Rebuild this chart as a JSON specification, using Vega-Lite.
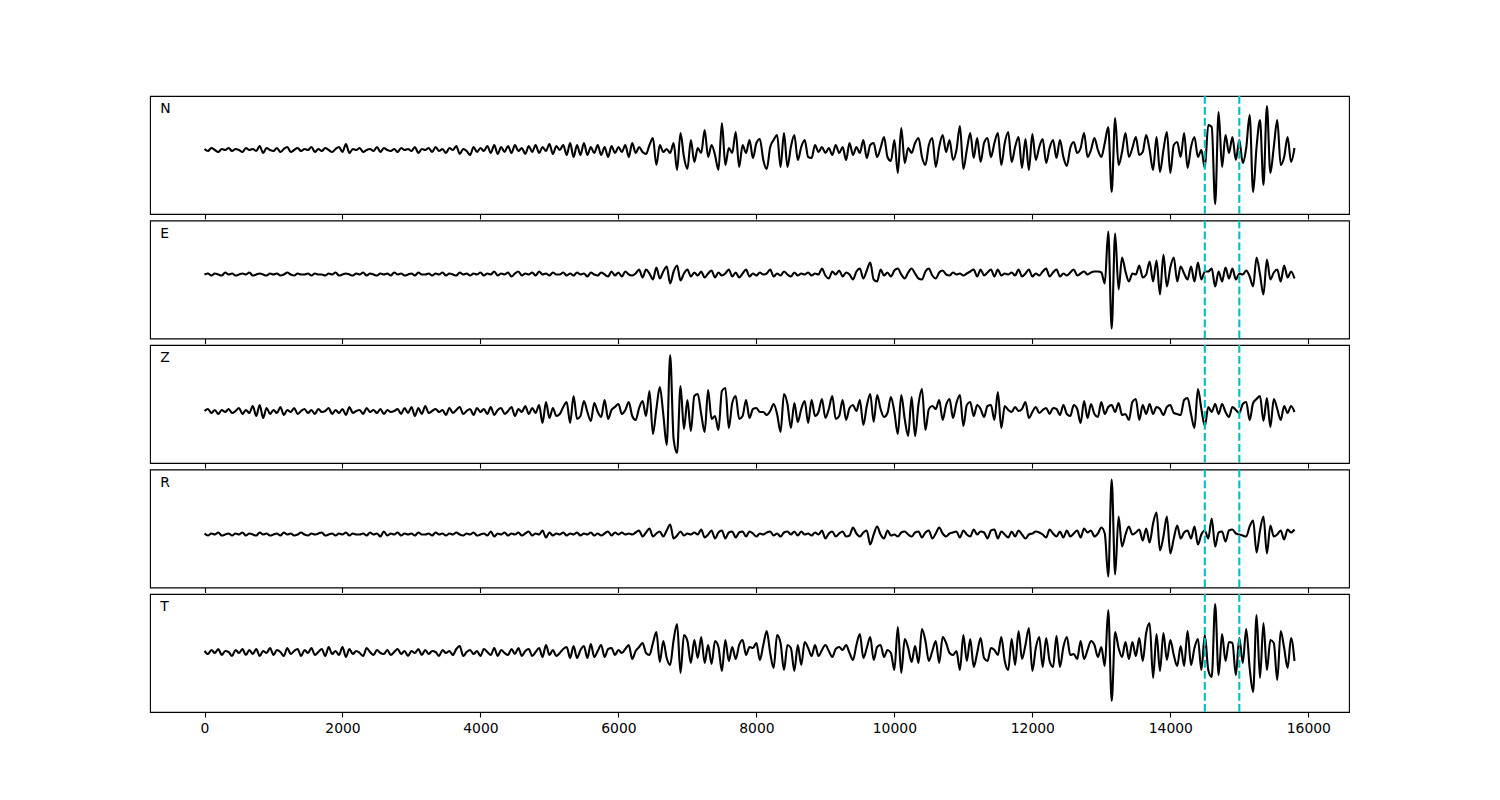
{"$schema":"https://vega.github.io/schema/vega-lite/v6.json","background":"white","padding":{"left":149,"top":94,"right":0,"bottom":0},"autosize":{"type":"pad"},"bounds":"flush","spacing":6.5,"config":{"view":{"stroke":"black","strokeWidth":1.1},"axis":{"grid":false},"font":"DejaVu Sans"},
"datasets":{"picks":[{"p":14500},{"p":15000}],"seis":[
{"t":0,"N":6,"E":5,"Z":-7,"R":-5,"T":2},{"t":50,"N":4,"E":6,"Z":-5,"R":-7,"T":-1},{"t":100,"N":7,"E":4,"Z":-9,"R":-5,"T":3},{"t":150,"N":5,"E":6,"Z":-6,"R":-6,"T":0},{"t":200,"N":3,"E":5,"Z":-10,"R":-4,"T":4},{"t":250,"N":6,"E":4,"Z":-6,"R":-7,"T":-2},{"t":300,"N":5,"E":7,"Z":-8,"R":-6,"T":2},{"t":350,"N":7,"E":5,"Z":-5,"R":-5,"T":1},{"t":400,"N":4,"E":6,"Z":-9,"R":-7,"T":-3},{"t":450,"N":6,"E":4,"Z":-7,"R":-5,"T":3},
{"t":500,"N":5,"E":5,"Z":-4,"R":-6,"T":0},{"t":550,"N":3,"E":6,"Z":-10,"R":-4,"T":4},{"t":600,"N":7,"E":5,"Z":-6,"R":-7,"T":-2},{"t":650,"N":5,"E":7,"Z":-9,"R":-5,"T":3},{"t":700,"N":6,"E":4,"Z":-2,"R":-6,"T":-1},{"t":750,"N":4,"E":5,"Z":-12,"R":-7,"T":4},{"t":800,"N":9,"E":6,"Z":-1,"R":-4,"T":-3},{"t":850,"N":2,"E":5,"Z":-14,"R":-6,"T":2},{"t":900,"N":7,"E":4,"Z":-4,"R":-5,"T":0},{"t":950,"N":5,"E":6,"Z":-10,"R":-7,"T":5},
{"t":1000,"N":4,"E":5,"Z":-6,"R":-6,"T":-2},{"t":1050,"N":7,"E":6,"Z":-9,"R":-5,"T":3},{"t":1100,"N":3,"E":4,"Z":-3,"R":-7,"T":1},{"t":1150,"N":6,"E":5,"Z":-11,"R":-4,"T":-3},{"t":1200,"N":8,"E":7,"Z":-6,"R":-6,"T":5},{"t":1250,"N":3,"E":5,"Z":-8,"R":-5,"T":-1},{"t":1300,"N":5,"E":4,"Z":-4,"R":-7,"T":2},{"t":1350,"N":7,"E":6,"Z":-10,"R":-6,"T":4},{"t":1400,"N":4,"E":5,"Z":-7,"R":-4,"T":-3},{"t":1450,"N":6,"E":5,"Z":-5,"R":-6,"T":3},
{"t":1500,"N":5,"E":6,"Z":-9,"R":-7,"T":0},{"t":1550,"N":8,"E":4,"Z":-6,"R":-5,"T":5},{"t":1600,"N":3,"E":6,"Z":-10,"R":-6,"T":-2},{"t":1650,"N":6,"E":5,"Z":-5,"R":-5,"T":1},{"t":1700,"N":4,"E":5,"Z":-8,"R":-4,"T":4},{"t":1750,"N":7,"E":4,"Z":-7,"R":-7,"T":-3},{"t":1800,"N":5,"E":6,"Z":-4,"R":-6,"T":6},{"t":1850,"N":3,"E":5,"Z":-10,"R":-5,"T":-1},{"t":1900,"N":6,"E":7,"Z":-6,"R":-7,"T":2},{"t":1950,"N":8,"E":4,"Z":-9,"R":-5,"T":-2},
{"t":2000,"N":3,"E":5,"Z":-5,"R":-6,"T":6},{"t":2050,"N":11,"E":6,"Z":-11,"R":-4,"T":-4},{"t":2100,"N":2,"E":5,"Z":-3,"R":-7,"T":4},{"t":2150,"N":6,"E":4,"Z":-9,"R":-5,"T":-1},{"t":2200,"N":5,"E":6,"Z":-7,"R":-6,"T":2},{"t":2250,"N":7,"E":5,"Z":-6,"R":-6,"T":0},{"t":2300,"N":3,"E":7,"Z":-10,"R":-5,"T":-3},{"t":2350,"N":5,"E":4,"Z":-4,"R":-7,"T":5},{"t":2400,"N":6,"E":6,"Z":-8,"R":-4,"T":1},{"t":2450,"N":4,"E":5,"Z":-6,"R":-6,"T":-2},
{"t":2500,"N":8,"E":4,"Z":-9,"R":-5,"T":3},{"t":2550,"N":3,"E":6,"Z":-5,"R":-8,"T":0},{"t":2600,"N":7,"E":5,"Z":-10,"R":-3,"T":-1},{"t":2650,"N":5,"E":6,"Z":-6,"R":-7,"T":3},{"t":2700,"N":4,"E":4,"Z":-8,"R":-5,"T":-2},{"t":2750,"N":6,"E":7,"Z":-7,"R":-6,"T":1},{"t":2800,"N":3,"E":5,"Z":-5,"R":-4,"T":4},{"t":2850,"N":7,"E":6,"Z":-10,"R":-7,"T":-1},{"t":2900,"N":5,"E":4,"Z":-4,"R":-5,"T":2},{"t":2950,"N":6,"E":5,"Z":-9,"R":-6,"T":-3},
{"t":3000,"N":4,"E":6,"Z":-3,"R":-5,"T":2},{"t":3050,"N":8,"E":4,"Z":-12,"R":-7,"T":0},{"t":3100,"N":2,"E":7,"Z":-4,"R":-4,"T":4},{"t":3150,"N":6,"E":5,"Z":-10,"R":-6,"T":-2},{"t":3200,"N":5,"E":5,"Z":-2,"R":-6,"T":3},{"t":3250,"N":7,"E":6,"Z":-9,"R":-5,"T":-1},{"t":3300,"N":3,"E":4,"Z":-7,"R":-7,"T":2},{"t":3350,"N":8,"E":6,"Z":-5,"R":-4,"T":1},{"t":3400,"N":4,"E":5,"Z":-8,"R":-6,"T":-3},{"t":3450,"N":6,"E":7,"Z":-6,"R":-5,"T":3},
{"t":3500,"N":2,"E":4,"Z":-11,"R":-7,"T":0},{"t":3550,"N":7,"E":6,"Z":-4,"R":-5,"T":2},{"t":3600,"N":5,"E":5,"Z":-9,"R":-6,"T":-2},{"t":3650,"N":9,"E":4,"Z":-6,"R":-4,"T":4},{"t":3700,"N":1,"E":7,"Z":-3,"R":-6,"T":7},{"t":3750,"N":6,"E":5,"Z":-10,"R":-7,"T":-3},{"t":3800,"N":4,"E":6,"Z":-7,"R":-5,"T":1},{"t":3850,"N":0,"E":4,"Z":-5,"R":-6,"T":3},{"t":3900,"N":8,"E":6,"Z":-11,"R":-4,"T":-1},{"t":3950,"N":3,"E":5,"Z":-4,"R":-7,"T":2},
{"t":4000,"N":7,"E":7,"Z":-8,"R":-6,"T":-3},{"t":4050,"N":4,"E":4,"Z":-5,"R":-5,"T":4},{"t":4100,"N":9,"E":6,"Z":-10,"R":-7,"T":1},{"t":4150,"N":2,"E":5,"Z":-3,"R":-3,"T":-2},{"t":4200,"N":10,"E":8,"Z":-11,"R":-8,"T":5},{"t":4250,"N":1,"E":4,"Z":-6,"R":-5,"T":-3},{"t":4300,"N":8,"E":6,"Z":-4,"R":-6,"T":3},{"t":4350,"N":3,"E":5,"Z":-10,"R":-4,"T":0},{"t":4400,"N":9,"E":7,"Z":-7,"R":-7,"T":-2},{"t":4450,"N":2,"E":3,"Z":-3,"R":-5,"T":4},
{"t":4500,"N":10,"E":6,"Z":-12,"R":-6,"T":-1},{"t":4550,"N":4,"E":8,"Z":-5,"R":-4,"T":5},{"t":4600,"N":7,"E":4,"Z":-8,"R":-7,"T":-3},{"t":4650,"N":1,"E":6,"Z":-2,"R":-5,"T":2},{"t":4700,"N":9,"E":5,"Z":-10,"R":-3,"T":4},{"t":4750,"N":3,"E":7,"Z":-4,"R":-7,"T":-3},{"t":4800,"N":10,"E":4,"Z":-9,"R":-5,"T":1},{"t":4850,"N":2,"E":8,"Z":-1,"R":-6,"T":5},{"t":4900,"N":8,"E":5,"Z":-19,"R":-2,"T":-4},{"t":4950,"N":4,"E":6,"Z":2,"R":-9,"T":8},
{"t":5000,"N":11,"E":4,"Z":-14,"R":-4,"T":-2},{"t":5050,"N":1,"E":7,"Z":-4,"R":-7,"T":3},{"t":5100,"N":9,"E":5,"Z":-12,"R":-5,"T":-3},{"t":5150,"N":5,"E":5,"Z":-10,"R":-6,"T":0},{"t":5200,"N":10,"E":7,"Z":-3,"R":-4,"T":4},{"t":5250,"N":0,"E":4,"Z":2,"R":-7,"T":6},{"t":5300,"N":12,"E":6,"Z":-19,"R":-5,"T":-5},{"t":5350,"N":-2,"E":4,"Z":8,"R":-6,"T":7},{"t":5400,"N":10,"E":7,"Z":-15,"R":-4,"T":-5},{"t":5450,"N":0,"E":5,"Z":-12,"R":-7,"T":3},
{"t":5500,"N":12,"E":6,"Z":3,"R":-5,"T":7},{"t":5550,"N":0,"E":3,"Z":-8,"R":-6,"T":-5},{"t":5600,"N":8,"E":7,"Z":-17,"R":-4,"T":9},{"t":5650,"N":2,"E":5,"Z":1,"R":-7,"T":-4},{"t":5700,"N":10,"E":4,"Z":-8,"R":-5,"T":2},{"t":5750,"N":0,"E":7,"Z":-13,"R":-7,"T":8},{"t":5800,"N":8,"E":5,"Z":4,"R":-5,"T":-4},{"t":5850,"N":-2,"E":3,"Z":-15,"R":-3,"T":4},{"t":5900,"N":9,"E":8,"Z":-6,"R":-7,"T":5},{"t":5950,"N":2,"E":4,"Z":-3,"R":-4,"T":-2},
{"t":6000,"N":8,"E":7,"Z":0,"R":-6,"T":3},{"t":6050,"N":3,"E":3,"Z":-10,"R":-4,"T":0},{"t":6100,"N":10,"E":8,"Z":-6,"R":-6,"T":4},{"t":6150,"N":-2,"E":5,"Z":2,"R":-5,"T":8},{"t":6200,"N":12,"E":4,"Z":-12,"R":-6,"T":-6},{"t":6250,"N":2,"E":6,"Z":-16,"R":-4,"T":2},{"t":6300,"N":8,"E":10,"Z":-4,"R":-2,"T":6},{"t":6350,"N":3,"E":2,"Z":3,"R":-8,"T":10},{"t":6400,"N":1,"E":10,"Z":-12,"R":-4,"T":0},{"t":6450,"N":10,"E":6,"Z":13,"R":0,"T":-2},
{"t":6500,"N":17,"E":0,"Z":-30,"R":-8,"T":10},{"t":6550,"N":-10,"E":12,"Z":-5,"R":-5,"T":21},{"t":6600,"N":10,"E":1,"Z":17,"R":-3,"T":-9},{"t":6650,"N":3,"E":8,"Z":-10,"R":-8,"T":12},{"t":6700,"N":6,"E":13,"Z":-41,"R":-2,"T":-5},{"t":6750,"N":2,"E":-4,"Z":49,"R":4,"T":-12},{"t":6800,"N":12,"E":8,"Z":-35,"R":-10,"T":13},{"t":6850,"N":-15,"E":14,"Z":-49,"R":-7,"T":29},{"t":6900,"N":22,"E":-1,"Z":18,"R":-3,"T":-20},{"t":6950,"N":-2,"E":6,"Z":-25,"R":-7,"T":18},
{"t":7000,"N":-14,"E":10,"Z":4,"R":-5,"T":12},{"t":7050,"N":15,"E":3,"Z":-27,"R":-6,"T":-10},{"t":7100,"N":-7,"E":7,"Z":8,"R":-4,"T":13},{"t":7150,"N":7,"E":4,"Z":10,"R":-6,"T":-5},{"t":7200,"N":2,"E":8,"Z":-10,"R":-1,"T":16},{"t":7250,"N":25,"E":2,"Z":-28,"R":-9,"T":-10},{"t":7300,"N":-2,"E":6,"Z":14,"R":-6,"T":8},{"t":7350,"N":10,"E":9,"Z":-15,"R":-2,"T":-11},{"t":7400,"N":0,"E":2,"Z":-12,"R":-10,"T":12},{"t":7450,"N":-15,"E":7,"Z":-26,"R":-4,"T":6},
{"t":7500,"N":32,"E":4,"Z":13,"R":-2,"T":-18},{"t":7550,"N":-10,"E":6,"Z":16,"R":-10,"T":13},{"t":7600,"N":7,"E":10,"Z":-24,"R":-4,"T":-8},{"t":7650,"N":2,"E":3,"Z":1,"R":-3,"T":6},{"t":7700,"N":23,"E":7,"Z":8,"R":-9,"T":-6},{"t":7750,"N":-12,"E":2,"Z":-15,"R":-4,"T":8},{"t":7800,"N":10,"E":6,"Z":-12,"R":-3,"T":13},{"t":7850,"N":2,"E":10,"Z":4,"R":-8,"T":-2},{"t":7900,"N":15,"E":3,"Z":-14,"R":-3,"T":6},{"t":7950,"N":-3,"E":6,"Z":-5,"R":-5,"T":5},
{"t":8000,"N":12,"E":4,"Z":-4,"R":-8,"T":10},{"t":8050,"N":16,"E":7,"Z":-8,"R":-5,"T":-7},{"t":8100,"N":-5,"E":5,"Z":-8,"R":-6,"T":8},{"t":8150,"N":-14,"E":6,"Z":-11,"R":-4,"T":22},{"t":8200,"N":8,"E":10,"Z":-7,"R":-3,"T":0},{"t":8250,"N":15,"E":3,"Z":0,"R":-7,"T":-15},{"t":8300,"N":20,"E":6,"Z":-10,"R":-5,"T":18},{"t":8350,"N":-12,"E":4,"Z":-28,"R":-8,"T":10},{"t":8400,"N":22,"E":8,"Z":10,"R":-4,"T":-17},{"t":8450,"N":-12,"E":5,"Z":0,"R":-3,"T":8},
{"t":8500,"N":8,"E":3,"Z":-24,"R":-6,"T":5},{"t":8550,"N":20,"E":7,"Z":1,"R":-3,"T":-18},{"t":8600,"N":-5,"E":4,"Z":-18,"R":-7,"T":8},{"t":8650,"N":8,"E":6,"Z":-5,"R":-3,"T":-12},{"t":8700,"N":15,"E":5,"Z":3,"R":-6,"T":11},{"t":8750,"N":-2,"E":7,"Z":-19,"R":-5,"T":5},{"t":8800,"N":-3,"E":4,"Z":4,"R":-7,"T":-3},{"t":8850,"N":10,"E":6,"Z":-12,"R":-4,"T":8},{"t":8900,"N":3,"E":5,"Z":-8,"R":-6,"T":-3},{"t":8950,"N":8,"E":11,"Z":5,"R":-2,"T":3},
{"t":9000,"N":2,"E":4,"Z":-14,"R":-10,"T":8},{"t":9050,"N":7,"E":1,"Z":-5,"R":-5,"T":2},{"t":9100,"N":0,"E":8,"Z":8,"R":-3,"T":-4},{"t":9150,"N":10,"E":5,"Z":-15,"R":-8,"T":4},{"t":9200,"N":2,"E":9,"Z":-12,"R":-5,"T":6},{"t":9250,"N":8,"E":3,"Z":4,"R":-3,"T":3},{"t":9300,"N":-5,"E":7,"Z":-16,"R":-8,"T":8},{"t":9350,"N":12,"E":5,"Z":-4,"R":-7,"T":0},{"t":9400,"N":0,"E":0,"Z":-1,"R":1,"T":-7},{"t":9450,"N":8,"E":8,"Z":-7,"R":-5,"T":8},
{"t":9500,"N":2,"E":11,"Z":4,"R":-8,"T":19},{"t":9550,"N":15,"E":1,"Z":-21,"R":-4,"T":-5},{"t":9600,"N":-3,"E":9,"Z":-2,"R":-2,"T":5},{"t":9650,"N":10,"E":17,"Z":10,"R":-16,"T":16},{"t":9700,"N":12,"E":0,"Z":-18,"R":-6,"T":-7},{"t":9750,"N":-2,"E":-2,"Z":9,"R":2,"T":6},{"t":9800,"N":7,"E":10,"Z":-5,"R":-6,"T":8},{"t":9850,"N":18,"E":4,"Z":-13,"R":-10,"T":-4},{"t":9900,"N":-2,"E":7,"Z":-9,"R":-2,"T":3},{"t":9950,"N":-6,"E":3,"Z":7,"R":-7,"T":0},
{"t":10000,"N":15,"E":9,"Z":-8,"R":-6,"T":-17},{"t":10050,"N":-18,"E":11,"Z":-30,"R":-8,"T":26},{"t":10100,"N":27,"E":5,"Z":9,"R":-4,"T":-20},{"t":10150,"N":-8,"E":1,"Z":-15,"R":-3,"T":14},{"t":10200,"N":7,"E":7,"Z":-32,"R":-6,"T":5},{"t":10250,"N":2,"E":11,"Z":7,"R":-8,"T":-9},{"t":10300,"N":12,"E":6,"Z":-32,"R":-4,"T":7},{"t":10350,"N":17,"E":1,"Z":0,"R":-3,"T":-10},{"t":10400,"N":-2,"E":0,"Z":15,"R":-9,"T":24},{"t":10450,"N":-10,"E":8,"Z":-26,"R":-4,"T":12},
{"t":10500,"N":10,"E":11,"Z":-5,"R":-2,"T":-8},{"t":10550,"N":17,"E":4,"Z":-2,"R":-10,"T":2},{"t":10600,"N":-12,"E":1,"Z":-5,"R":-5,"T":12},{"t":10650,"N":8,"E":7,"Z":4,"R":1,"T":-10},{"t":10700,"N":20,"E":9,"Z":-16,"R":-5,"T":16},{"t":10750,"N":3,"E":5,"Z":-1,"R":-8,"T":10},{"t":10800,"N":15,"E":4,"Z":5,"R":-5,"T":0},{"t":10850,"N":-5,"E":7,"Z":-14,"R":-4,"T":-2},{"t":10900,"N":5,"E":5,"Z":1,"R":-3,"T":2},{"t":10950,"N":29,"E":6,"Z":9,"R":-9,"T":-17},
{"t":11000,"N":-14,"E":4,"Z":-22,"R":-2,"T":18},{"t":11050,"N":5,"E":6,"Z":-1,"R":-6,"T":-8},{"t":11100,"N":22,"E":8,"Z":2,"R":-8,"T":14},{"t":11150,"N":-3,"E":10,"Z":-12,"R":-1,"T":-14},{"t":11200,"N":17,"E":3,"Z":-1,"R":-6,"T":0},{"t":11250,"N":-7,"E":10,"Z":-5,"R":-3,"T":15},{"t":11300,"N":12,"E":4,"Z":-13,"R":-4,"T":-5},{"t":11350,"N":17,"E":7,"Z":-2,"R":-10,"T":-8},{"t":11400,"N":-2,"E":10,"Z":-1,"R":-2,"T":5},{"t":11450,"N":12,"E":3,"Z":-16,"R":-1,"T":3},
{"t":11500,"N":22,"E":10,"Z":12,"R":-10,"T":-2},{"t":11550,"N":-10,"E":4,"Z":-24,"R":-3,"T":16},{"t":11600,"N":12,"E":6,"Z":-2,"R":-6,"T":-8},{"t":11650,"N":23,"E":5,"Z":-6,"R":-9,"T":-17},{"t":11700,"N":-7,"E":7,"Z":-8,"R":-3,"T":14},{"t":11750,"N":8,"E":4,"Z":-3,"R":-8,"T":-12},{"t":11800,"N":18,"E":10,"Z":-7,"R":-2,"T":22},{"t":11850,"N":-13,"E":3,"Z":-5,"R":-6,"T":-6},{"t":11900,"N":16,"E":6,"Z":2,"R":-10,"T":8},{"t":11950,"N":-15,"E":10,"Z":-14,"R":-6,"T":25},
{"t":12000,"N":21,"E":3,"Z":-8,"R":-5,"T":-18},{"t":12050,"N":-5,"E":6,"Z":-3,"R":-3,"T":5},{"t":12100,"N":8,"E":4,"Z":-9,"R":-4,"T":16},{"t":12150,"N":16,"E":8,"Z":-6,"R":-6,"T":-14},{"t":12200,"N":-8,"E":11,"Z":-4,"R":-9,"T":15},{"t":12250,"N":7,"E":3,"Z":-10,"R":-1,"T":-8},{"t":12300,"N":15,"E":7,"Z":-4,"R":-5,"T":-14},{"t":12350,"N":-3,"E":10,"Z":-5,"R":-8,"T":17},{"t":12400,"N":15,"E":3,"Z":-11,"R":-3,"T":-14},{"t":12450,"N":-2,"E":6,"Z":-1,"R":-9,"T":6},
{"t":12500,"N":-11,"E":4,"Z":-10,"R":-2,"T":16},{"t":12550,"N":7,"E":7,"Z":-12,"R":-8,"T":-2},{"t":12600,"N":13,"E":10,"Z":-1,"R":-5,"T":-1},{"t":12650,"N":2,"E":4,"Z":-5,"R":-2,"T":-6},{"t":12700,"N":7,"E":6,"Z":-19,"R":-9,"T":12},{"t":12750,"N":22,"E":8,"Z":3,"R":0,"T":-6},{"t":12800,"N":-2,"E":5,"Z":-14,"R":-4,"T":3},{"t":12850,"N":5,"E":7,"Z":0,"R":-2,"T":12},{"t":12900,"N":17,"E":8,"Z":-10,"R":-8,"T":8},{"t":12950,"N":5,"E":8,"Z":-13,"R":-5,"T":-4},
{"t":13000,"N":-2,"E":7,"Z":2,"R":1,"T":6},{"t":13050,"N":12,"E":-4,"Z":-10,"R":-5,"T":-13},{"t":13100,"N":28,"E":48,"Z":-3,"R":-48,"T":43},{"t":13150,"N":-37,"E":-49,"Z":-1,"R":49,"T":-48},{"t":13200,"N":37,"E":46,"Z":-8,"R":-46,"T":21},{"t":13250,"N":-10,"E":-10,"Z":1,"R":12,"T":5},{"t":13300,"N":3,"E":22,"Z":-11,"R":-18,"T":-4},{"t":13350,"N":22,"E":8,"Z":-10,"R":-6,"T":11},{"t":13400,"N":-2,"E":-2,"Z":-16,"R":2,"T":-6},{"t":13450,"N":7,"E":6,"Z":2,"R":-6,"T":11},
{"t":13500,"N":18,"E":5,"Z":5,"R":-4,"T":-3},{"t":13550,"N":0,"E":14,"Z":-16,"R":-1,"T":15},{"t":13600,"N":3,"E":2,"Z":-1,"R":-12,"T":-8},{"t":13650,"N":20,"E":5,"Z":-10,"R":0,"T":20},{"t":13700,"N":5,"E":18,"Z":0,"R":-14,"T":30},{"t":13750,"N":-15,"E":-2,"Z":-10,"R":5,"T":-25},{"t":13800,"N":18,"E":19,"Z":-3,"R":16,"T":19},{"t":13850,"N":-17,"E":-15,"Z":-5,"R":-22,"T":-18},{"t":13900,"N":5,"E":25,"Z":-11,"R":-8,"T":20},{"t":13950,"N":23,"E":-7,"Z":-3,"R":12,"T":-7},
{"t":14000,"N":-18,"E":12,"Z":-1,"R":-25,"T":13},{"t":14050,"N":10,"E":22,"Z":-9,"R":-10,"T":-2},{"t":14100,"N":13,"E":-2,"Z":-10,"R":3,"T":-13},{"t":14150,"N":-2,"E":13,"Z":-11,"R":-10,"T":7},{"t":14200,"N":22,"E":6,"Z":4,"R":-4,"T":-13},{"t":14250,"N":-13,"E":0,"Z":6,"R":-2,"T":22},{"t":14300,"N":8,"E":13,"Z":-10,"R":-10,"T":-12},{"t":14350,"N":18,"E":-2,"Z":-24,"R":2,"T":5},{"t":14400,"N":-2,"E":17,"Z":15,"R":-16,"T":14},{"t":14450,"N":5,"E":0,"Z":-5,"R":-6,"T":-17},
{"t":14500,"N":-13,"E":8,"Z":-22,"R":-2,"T":18},{"t":14550,"N":30,"E":8,"Z":-3,"R":-10,"T":-17},{"t":14600,"N":28,"E":11,"Z":-8,"R":10,"T":-24},{"t":14650,"N":-49,"E":-7,"Z":0,"R":-18,"T":49},{"t":14700,"N":43,"E":8,"Z":-10,"R":-4,"T":-22},{"t":14750,"N":-12,"E":-2,"Z":0,"R":-3,"T":19},{"t":14800,"N":20,"E":12,"Z":-8,"R":-13,"T":-8},{"t":14850,"N":2,"E":1,"Z":-13,"R":-2,"T":11},{"t":14900,"N":18,"E":11,"Z":-3,"R":-1,"T":10},{"t":14950,"N":-5,"E":0,"Z":-6,"R":-5,"T":-22},
{"t":15000,"N":15,"E":6,"Z":-9,"R":-6,"T":15},{"t":15050,"N":-8,"E":5,"Z":0,"R":-7,"T":-10},{"t":15100,"N":7,"E":9,"Z":2,"R":-8,"T":24},{"t":15150,"N":40,"E":3,"Z":-16,"R":2,"T":-15},{"t":15200,"N":-37,"E":-7,"Z":1,"R":8,"T":-39},{"t":15250,"N":8,"E":22,"Z":5,"R":-24,"T":38},{"t":15300,"N":35,"E":5,"Z":8,"R":-2,"T":-25},{"t":15350,"N":-30,"E":-15,"Z":-17,"R":12,"T":30},{"t":15400,"N":49,"E":20,"Z":6,"R":-25,"T":-17},{"t":15450,"N":-18,"E":0,"Z":-23,"R":3,"T":13},
{"t":15500,"N":8,"E":7,"Z":5,"R":-8,"T":10},{"t":15550,"N":35,"E":10,"Z":-5,"R":-6,"T":-27},{"t":15600,"N":-10,"E":-2,"Z":-16,"R":-2,"T":22},{"t":15650,"N":-2,"E":14,"Z":-2,"R":-11,"T":5},{"t":15700,"N":18,"E":2,"Z":-9,"R":-1,"T":-15},{"t":15750,"N":-7,"E":8,"Z":-2,"R":-4,"T":15},{"t":15800,"N":7,"E":1,"Z":-8,"R":-1,"T":-8}
]},
"vconcat":[
{"width":1199,"height":118,"layer":[
{"data":{"name":"seis"},"mark":{"type":"line","color":"black","strokeWidth":2.1,"strokeJoin":"round","interpolate":"monotone"},"encoding":{"x":{"field":"t","type":"quantitative","scale":{"domain":[-790,16590],"nice":false,"zero":false},"axis":{"values":[0,2000,4000,6000,8000,10000,12000,14000,16000],"labels":false,"domain":false,"ticks":true,"tickSize":5,"tickColor":"black","tickWidth":1.1,"title":null,"grid":false}},"y":{"field":"N","type":"quantitative","scale":{"domain":[-59,59],"nice":false,"zero":false},"axis":null}}},
{"data":{"name":"picks"},"mark":{"type":"rule","color":"#00BFBF","strokeWidth":2.1,"strokeDash":[7.7,3.3]},"encoding":{"x":{"field":"p","type":"quantitative"}}},
{"data":{"values":[{"c":"N"}]},"mark":{"type":"text","align":"left","baseline":"alphabetic","fontSize":13.9,"font":"DejaVu Sans","color":"black"},"encoding":{"x":{"datum":-640},"y":{"datum":41.7},"text":{"field":"c","type":"nominal"}}}]},
{"width":1199,"height":118,"layer":[
{"data":{"name":"seis"},"mark":{"type":"line","color":"black","strokeWidth":2.1,"strokeJoin":"round","interpolate":"monotone"},"encoding":{"x":{"field":"t","type":"quantitative","scale":{"domain":[-790,16590],"nice":false,"zero":false},"axis":{"values":[0,2000,4000,6000,8000,10000,12000,14000,16000],"labels":false,"domain":false,"ticks":true,"tickSize":5,"tickColor":"black","tickWidth":1.1,"title":null,"grid":false}},"y":{"field":"E","type":"quantitative","scale":{"domain":[-59,59],"nice":false,"zero":false},"axis":null}}},
{"data":{"name":"picks"},"mark":{"type":"rule","color":"#00BFBF","strokeWidth":2.1,"strokeDash":[7.7,3.3]},"encoding":{"x":{"field":"p","type":"quantitative"}}},
{"data":{"values":[{"c":"E"}]},"mark":{"type":"text","align":"left","baseline":"alphabetic","fontSize":13.9,"font":"DejaVu Sans","color":"black"},"encoding":{"x":{"datum":-640},"y":{"datum":41.7},"text":{"field":"c","type":"nominal"}}}]},
{"width":1199,"height":118,"layer":[
{"data":{"name":"seis"},"mark":{"type":"line","color":"black","strokeWidth":2.1,"strokeJoin":"round","interpolate":"monotone"},"encoding":{"x":{"field":"t","type":"quantitative","scale":{"domain":[-790,16590],"nice":false,"zero":false},"axis":{"values":[0,2000,4000,6000,8000,10000,12000,14000,16000],"labels":false,"domain":false,"ticks":true,"tickSize":5,"tickColor":"black","tickWidth":1.1,"title":null,"grid":false}},"y":{"field":"Z","type":"quantitative","scale":{"domain":[-59,59],"nice":false,"zero":false},"axis":null}}},
{"data":{"name":"picks"},"mark":{"type":"rule","color":"#00BFBF","strokeWidth":2.1,"strokeDash":[7.7,3.3]},"encoding":{"x":{"field":"p","type":"quantitative"}}},
{"data":{"values":[{"c":"Z"}]},"mark":{"type":"text","align":"left","baseline":"alphabetic","fontSize":13.9,"font":"DejaVu Sans","color":"black"},"encoding":{"x":{"datum":-640},"y":{"datum":41.7},"text":{"field":"c","type":"nominal"}}}]},
{"width":1199,"height":118,"layer":[
{"data":{"name":"seis"},"mark":{"type":"line","color":"black","strokeWidth":2.1,"strokeJoin":"round","interpolate":"monotone"},"encoding":{"x":{"field":"t","type":"quantitative","scale":{"domain":[-790,16590],"nice":false,"zero":false},"axis":{"values":[0,2000,4000,6000,8000,10000,12000,14000,16000],"labels":false,"domain":false,"ticks":true,"tickSize":5,"tickColor":"black","tickWidth":1.1,"title":null,"grid":false}},"y":{"field":"R","type":"quantitative","scale":{"domain":[-59,59],"nice":false,"zero":false},"axis":null}}},
{"data":{"name":"picks"},"mark":{"type":"rule","color":"#00BFBF","strokeWidth":2.1,"strokeDash":[7.7,3.3]},"encoding":{"x":{"field":"p","type":"quantitative"}}},
{"data":{"values":[{"c":"R"}]},"mark":{"type":"text","align":"left","baseline":"alphabetic","fontSize":13.9,"font":"DejaVu Sans","color":"black"},"encoding":{"x":{"datum":-640},"y":{"datum":41.7},"text":{"field":"c","type":"nominal"}}}]},
{"width":1199,"height":118,"layer":[
{"data":{"name":"seis"},"mark":{"type":"line","color":"black","strokeWidth":2.1,"strokeJoin":"round","interpolate":"monotone"},"encoding":{"x":{"field":"t","type":"quantitative","scale":{"domain":[-790,16590],"nice":false,"zero":false},"axis":{"values":[0,2000,4000,6000,8000,10000,12000,14000,16000],"format":"d","labels":true,"labelFontSize":13.9,"labelFont":"DejaVu Sans","labelColor":"black","labelPadding":4,"labelFlush":false,"labelOverlap":false,"domain":false,"ticks":true,"tickSize":5,"tickColor":"black","tickWidth":1.1,"title":null,"grid":false}},"y":{"field":"T","type":"quantitative","scale":{"domain":[-59,59],"nice":false,"zero":false},"axis":null}}},
{"data":{"name":"picks"},"mark":{"type":"rule","color":"#00BFBF","strokeWidth":2.1,"strokeDash":[7.7,3.3]},"encoding":{"x":{"field":"p","type":"quantitative"}}},
{"data":{"values":[{"c":"T"}]},"mark":{"type":"text","align":"left","baseline":"alphabetic","fontSize":13.9,"font":"DejaVu Sans","color":"black"},"encoding":{"x":{"datum":-640},"y":{"datum":41.7},"text":{"field":"c","type":"nominal"}}}]}
]}
